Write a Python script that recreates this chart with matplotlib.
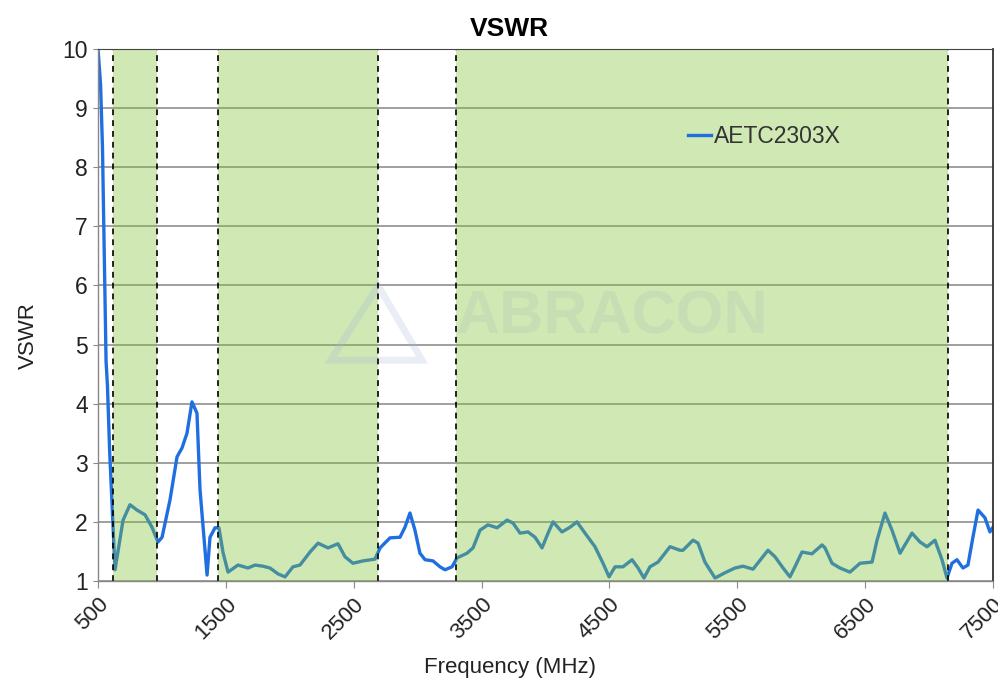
import matplotlib
matplotlib.use("Agg")
import matplotlib.pyplot as plt
from matplotlib.patches import Polygon

plt.rcParams['font.family'] = ['Liberation Sans', 'DejaVu Sans']

freq_mhz = [500, 520, 535, 549, 563, 574, 591, 610, 633, 696, 750, 805, 868, 922, 969, 1001,
            1063, 1118, 1157, 1196, 1235, 1274, 1298, 1353, 1376, 1415, 1446, 1478, 1517,
            1595, 1673, 1728, 1791, 1845, 1908, 1963, 2025, 2080, 2158, 2221, 2299, 2377,
            2432, 2494, 2573, 2666, 2706, 2784, 2862, 2901, 2940, 2979, 3018, 3058, 3120,
            3175, 3214, 3269, 3308, 3386, 3433, 3488, 3550, 3621, 3699, 3746, 3801, 3863,
            3918, 3973, 4020, 4059, 4129, 4192, 4246, 4309, 4387, 4450, 4497, 4544, 4606,
            4677, 4724, 4770, 4817, 4880, 4974, 5052, 5075, 5154, 5193, 5247, 5326, 5404,
            5482, 5545, 5623, 5693, 5740, 5795, 5858, 5912, 5951, 6006, 6084, 6163, 6186,
            6241, 6303, 6381, 6460, 6554, 6593, 6655, 6710, 6773, 6866, 6929, 6984, 7046,
            7101, 7140, 7179, 7218, 7265, 7304, 7343, 7383, 7437, 7476, 7500]
vswr = [10.0, 9.4, 8.34, 6.53, 4.72, 4.3, 3.2, 2.3, 1.19, 2.03, 2.29, 2.2, 2.12, 1.91, 1.66, 1.74,
        2.37, 3.1, 3.25, 3.5, 4.03, 3.84, 2.54, 1.1, 1.74, 1.9, 1.9, 1.48, 1.15,
        1.27, 1.22, 1.27, 1.25, 1.22, 1.12, 1.07, 1.24, 1.27, 1.49, 1.64, 1.56, 1.63,
        1.41, 1.3, 1.34, 1.37, 1.56, 1.73, 1.74, 1.91, 2.15, 1.86, 1.47, 1.36, 1.34,
        1.24, 1.19, 1.24, 1.39, 1.47, 1.56, 1.86, 1.95, 1.9, 2.03, 1.98, 1.81, 1.83,
        1.74, 1.56, 1.81, 2.0, 1.83, 1.91, 2.0, 1.81, 1.58, 1.3, 1.07, 1.24, 1.24,
        1.36, 1.22, 1.05, 1.24, 1.32, 1.58, 1.52, 1.52, 1.69, 1.64, 1.32, 1.05, 1.14,
        1.22, 1.25, 1.2, 1.39, 1.52, 1.41, 1.22, 1.07, 1.24, 1.49, 1.46, 1.61, 1.56,
        1.3, 1.22, 1.15, 1.3, 1.32, 1.69, 2.15, 1.86, 1.47, 1.81, 1.66, 1.58, 1.69,
        1.36, 1.05, 1.3, 1.36, 1.22, 1.27, 1.74, 2.2, 2.07, 1.83, 1.91]

bands = [(617, 960), (1440, 2690), (3300, 7150)]
x_ticks = [500, 1500, 2500, 3500, 4500, 5500, 6500, 7500]
y_ticks = [1, 2, 3, 4, 5, 6, 7, 8, 9, 10]
series_name = "AETC2303X"

fig = plt.figure(figsize=(9.98, 6.87), dpi=100)
ax = fig.add_axes([98/998, 106/687, 895/998, 532/687])

ax.set_xlim(500, 7500)
ax.set_ylim(1, 10)

for yv in y_ticks:
    ax.axhline(yv, color='#858585', lw=1.1, zorder=1)

line, = ax.plot(freq_mhz, vswr, color='#1f6fe0', lw=2.4, zorder=2, label=series_name,
                solid_joinstyle='round')

for (a, b) in bands:
    ax.axvspan(a, b, color='#83c33a', alpha=0.38, lw=0, zorder=3)
    ax.axvline(a, color='black', lw=1.2, ls=(0, (3.5, 3)), zorder=4)
    ax.axvline(b, color='black', lw=1.2, ls=(0, (3.5, 3)), zorder=4)

# watermark
ax.text(0.574, 0.495, "ABRACON", transform=ax.transAxes, fontsize=44, fontweight='bold',
        color='#b5c9b5', alpha=0.3, ha='center', va='center', zorder=3.5)
tri = Polygon([[0.26, 0.415], [0.313, 0.555], [0.362, 0.415]], closed=True, fill=False,
              edgecolor='#a8b8d8', lw=5, alpha=0.25, transform=ax.transAxes, zorder=3.5)
ax.add_patch(tri)

ax.set_xticks(x_ticks)
ax.set_yticks(y_ticks)
ax.set_xticklabels([str(v) for v in x_ticks], rotation=45, ha='right',
                   rotation_mode='anchor', fontsize=16, color='#222222')
ax.set_yticklabels([str(v) for v in y_ticks], fontsize=16.5, color='#222222')
ax.tick_params(axis='x', direction='out', length=5, color='#888888', pad=4)
ax.tick_params(axis='y', direction='out', length=3.6, color='#888888', pad=3.6)

for s in ['left', 'bottom']:
    ax.spines[s].set_color('#888888')
    ax.spines[s].set_linewidth(1.0)
ax.spines['top'].set_color('#444444')
ax.spines['right'].set_color('#333333')
ax.spines['right'].set_linewidth(1.3)
for s in ax.spines.values():
    s.set_zorder(5)

ax.set_title("VSWR", fontsize=19, fontweight='bold', pad=9, x=0.46)
ax.set_xlabel("Frequency (MHz)", fontsize=16, labelpad=10, color='#222222', x=0.46)
ax.set_ylabel("VSWR", fontsize=16, labelpad=17, color='#222222', y=0.462)

leg = ax.legend(handles=[line], loc='center left', bbox_to_anchor=(0.659, 0.835),
                frameon=False, fontsize=16.5, handlelength=1.0, handletextpad=0.15,
                borderaxespad=0, borderpad=0)
for t in leg.get_texts():
    t.set_color('#333333')
leg.set_zorder(6)

fig.savefig("out.png", dpi=100)
